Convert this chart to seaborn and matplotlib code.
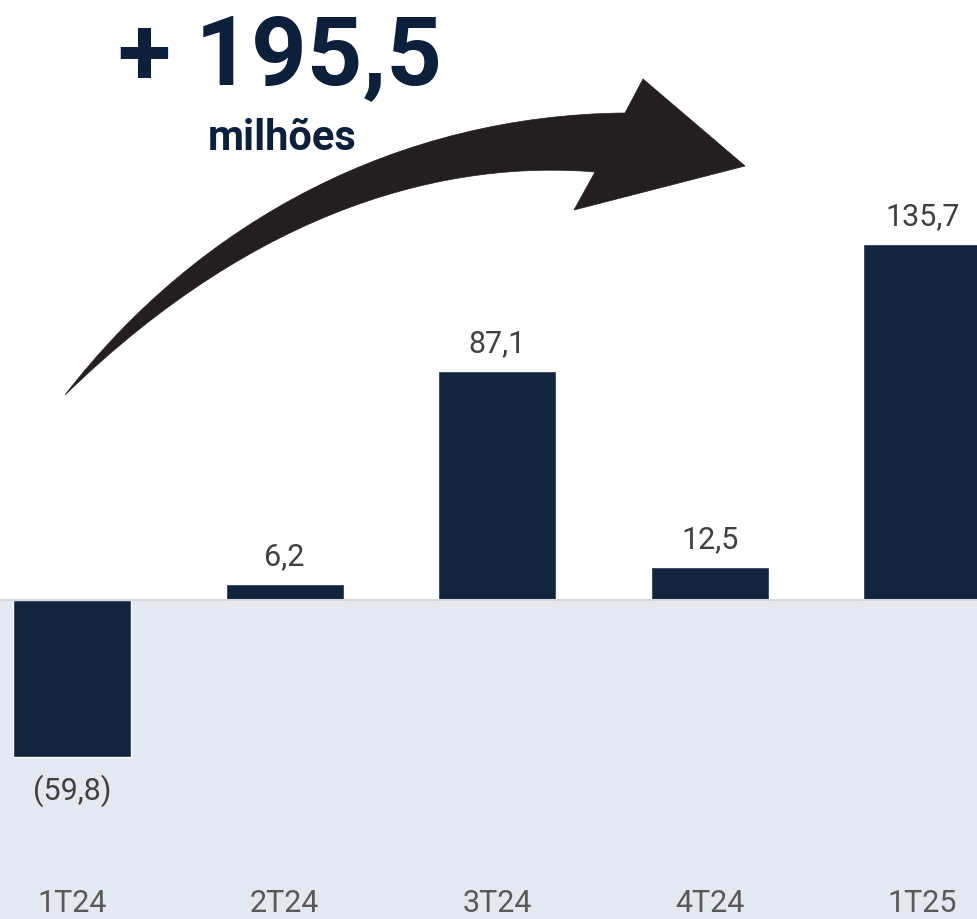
import matplotlib
matplotlib.use("Agg")
import matplotlib.pyplot as plt
import matplotlib.transforms as mtransforms
from matplotlib.path import Path
from matplotlib.patches import PathPatch
import seaborn as sns
import pandas as pd

# Quarterly result (R$ milhões)
quarters = ["1T24", "2T24", "3T24", "4T24", "1T25"]
values = [-59.8, 6.2, 87.1, 12.5, 135.7]
value_labels = ["(59,8)", "6,2", "87,1", "12,5", "135,7"]
headline = "+ 195,5"
headline_unit = "milhões"

BAR = "#12253f"
NAVY = "#0c1f3b"
SHADE = "#e4e8f1"
ARROW = "#231f20"

W, H, DPI = 977, 919, 100

sns.set_theme(style="white")
plt.rcParams["font.family"] = ["Roboto", "DejaVu Sans"]

fig = plt.figure(figsize=(W / DPI, H / DPI), dpi=DPI)
ax = fig.add_axes([0, 0, 1, 1])

df = pd.DataFrame({"quarter": quarters, "value": values})
sns.barplot(data=df, x="quarter", y="value", color=BAR, saturation=1,
            width=0.555, ax=ax, zorder=3)

ax.set_xlim(-0.3387, 4.2568)
ax.set_ylim(-121.6, 228.7)
ax.axhspan(-121.6, 0, color=SHADE, zorder=0, lw=0)
ax.axhline(0, color="#d6d8dc", lw=1.5, zorder=4)

ax.set_axis_off()

# value labels above / below each bar
for i, (v, lab) in enumerate(zip(values, value_labels)):
    if v >= 0:
        ax.annotate(lab, (i, v), xytext=(0, 19), textcoords="offset pixels",
                    ha="center", va="baseline", fontsize=22, color="#404040")
    else:
        ax.annotate(lab, (i, v), xytext=(0, -43), textcoords="offset pixels",
                    ha="center", va="baseline", fontsize=22, color="#404040")

# category labels along the bottom edge
blend = mtransforms.blended_transform_factory(ax.transData, ax.transAxes)
for i, q in enumerate(quarters):
    ax.text(i, 0.5 / H, q, transform=blend, ha="center", va="bottom",
            fontsize=22, color="#595959")

# pixel-space transform (origin top-left)
px = mtransforms.Affine2D().scale(1 / W, -1 / H).translate(0, 1) + fig.transFigure

fig.text(280, 84, headline, transform=px, ha="center", va="baseline",
         fontsize=70, fontweight="bold", color=NAVY)
fig.text(282, 150, headline_unit, transform=px, ha="center", va="baseline",
         fontsize=30, fontweight="bold", color=NAVY)

# curved tapering arrow
verts = [
    (65, 395),
    (200, 220), (400, 115), (625, 113),   # upper edge
    (643, 79),                            # upper barb
    (745, 166),                           # tip
    (574, 210),                           # lower barb
    (595, 172),                           # notch
    (450, 160), (260, 205), (65, 395),    # lower edge
    (65, 395),
]
codes = [Path.MOVETO,
         Path.CURVE4, Path.CURVE4, Path.CURVE4,
         Path.LINETO, Path.LINETO, Path.LINETO, Path.LINETO,
         Path.CURVE4, Path.CURVE4, Path.CURVE4,
         Path.CLOSEPOLY]
arrow = PathPatch(Path(verts, codes), facecolor=ARROW, edgecolor=ARROW,
                  lw=0.5, transform=px, zorder=5)
fig.patches.append(arrow)

fig.savefig("out.png", dpi=DPI)
